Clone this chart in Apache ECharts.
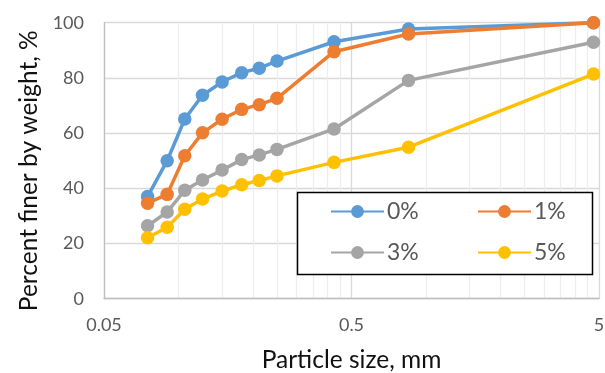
<!DOCTYPE html>
<html>
<head>
<meta charset="utf-8">
<script src="https://cdn.jsdelivr.net/npm/echarts@6/dist/echarts.min.js"></script>
<style>html,body{margin:0;padding:0;background:#fff}#c{width:605px;height:373px}</style>
</head>
<body>
<div id="c"></div>
<script>
var sizes = [0.075, 0.09, 0.106, 0.125, 0.15, 0.18, 0.212, 0.25, 0.425, 0.85, 4.75];
var s0 = [37.0, 50.0, 65.1, 73.7, 78.5, 81.9, 83.5, 86.1, 93.1, 97.7, 100];
var s1 = [34.6, 37.8, 51.8, 60.1, 65.0, 68.6, 70.3, 72.6, 89.5, 95.9, 100];
var s3 = [26.4, 31.4, 39.3, 43.0, 46.6, 50.4, 52.1, 54.1, 61.5, 79.1, 92.9];
var s5 = [22.1, 25.9, 32.4, 36.1, 39.0, 41.3, 42.8, 44.5, 49.4, 54.9, 81.4];
var seriesNames = ['0%', '1%', '3%', '5%'];
var xTickLabels = [0.05, 0.5, 5];
var xGridValues = [0.05, 0.1, 0.15, 0.2, 0.25, 0.3, 0.35, 0.4, 0.45, 0.5, 1, 1.5, 2, 2.5, 3, 3.5, 4, 4.5, 5];

var colors = ['#5B9BD5', '#ED7D31', '#A5A5A5', '#FFC000'];
var allData = [s0, s1, s3, s5];
var FONT = 'Lato';

function pairs(arr) { return sizes.map(function (x, i) { return [x, arr[i]]; }); }

var series = seriesNames.map(function (n, k) {
  return {
    name: n, type: 'line', data: pairs(allData[k]),
    symbol: 'circle', symbolSize: 13.5, showSymbol: true,
    lineStyle: { width: 3.5, color: colors[k] },
    itemStyle: { color: colors[k] },
    z: 2 + k * 0.01
  };
});

var legendPos = [[330, 200], [477, 200], [330, 241], [477, 241]];
var legends = seriesNames.map(function (n, k) {
  return {
    data: [n], left: legendPos[k][0], top: legendPos[k][1], padding: 0,
    itemWidth: 53, itemHeight: 16, itemGap: 0,
    textStyle: { fontFamily: FONT, fontSize: 23, color: '#595959', padding: [0, 0, 0, -2] },
    z: 10
  };
});

var majMin = ['#D9D9D9', '#EDEDED', '#EDEDED', '#EDEDED', '#EDEDED', '#EDEDED', '#EDEDED', '#EDEDED', '#EDEDED'];

var chart = echarts.init(document.getElementById('c'), null, { renderer: 'canvas' });
chart.setOption({
  animation: false,
  backgroundColor: '#fff',
  grid: { left: 104, right: 6, top: 22.7, bottom: 74.3, containLabel: false, outerBoundsMode: 'none' },
  xAxis: {
    type: 'log', logBase: 10, min: 0.05, max: 5,
    name: 'Particle size, mm', nameLocation: 'middle', nameGap: 49,
    nameTextStyle: { fontFamily: FONT, fontSize: 24.5, color: '#111' },
    axisLine: { show: true, lineStyle: { color: '#BFBFBF', width: 1.3 } },
    axisTick: { show: false, customValues: xGridValues },
    axisLabel: { customValues: xTickLabels, fontFamily: FONT, fontSize: 18, color: '#595959', margin: 17,
      formatter: function (v) { return String(+v.toPrecision(3)); } },
    splitLine: { show: true, lineStyle: { color: majMin, width: 1.3 } },
    minorSplitLine: { show: false }
  },
  yAxis: {
    type: 'value', min: 0, max: 100, interval: 20,
    name: 'Percent finer by weight, %', nameLocation: 'middle', nameGap: 54, nameRotate: 90,
    nameTextStyle: { fontFamily: FONT, fontSize: 24.5, color: '#111', padding: [0, 20, 0, 0] },
    axisLine: { show: true, lineStyle: { color: '#BFBFBF', width: 1.3 } },
    axisTick: { show: false },
    axisLabel: { fontFamily: FONT, fontSize: 18, color: '#595959', margin: 20 },
    splitLine: { show: true, lineStyle: { color: '#D9D9D9', width: 1.3 } }
  },
  legend: legends,
  graphic: [{
    type: 'rect', z: 8, shape: { x: 297.5, y: 192.5, width: 295, height: 82 },
    style: { fill: '#fff', stroke: '#000', lineWidth: 1.5 }
  }],
  series: series
});
</script>
</body>
</html>
